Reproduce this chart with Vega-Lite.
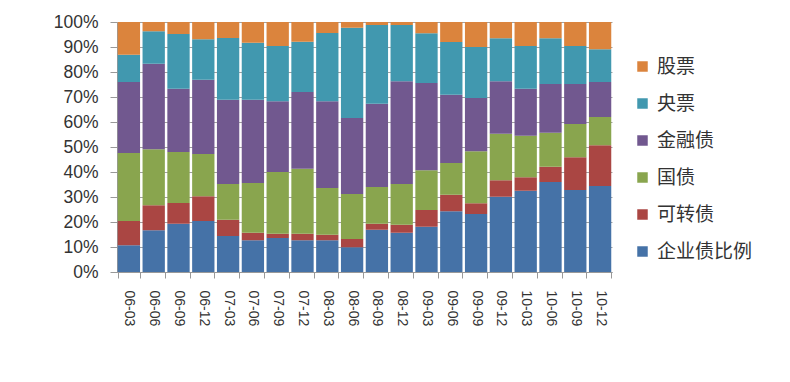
{
  "$schema": "https://vega.github.io/schema/vega-lite/v6.json",
  "autosize": {"type": "none"},
  "width": 495,
  "height": 250,
  "padding": {"left": 117, "top": 22, "right": 178, "bottom": 110},
  "background": "white",
  "data": {"values": [
    {"q":"06-03","t":"企业债比例","o":1,"v":10.7},{"q":"06-03","t":"可转债","o":2,"v":9.7},{"q":"06-03","t":"国债","o":3,"v":27.2},{"q":"06-03","t":"金融债","o":4,"v":28.4},{"q":"06-03","t":"央票","o":5,"v":10.9},{"q":"06-03","t":"股票","o":6,"v":13.1},
    {"q":"06-06","t":"企业债比例","o":1,"v":16.7},{"q":"06-06","t":"可转债","o":2,"v":10.0},{"q":"06-06","t":"国债","o":3,"v":22.4},{"q":"06-06","t":"金融债","o":4,"v":34.2},{"q":"06-06","t":"央票","o":5,"v":13.0},{"q":"06-06","t":"股票","o":6,"v":3.7},
    {"q":"06-09","t":"企业债比例","o":1,"v":19.3},{"q":"06-09","t":"可转债","o":2,"v":8.3},{"q":"06-09","t":"国债","o":3,"v":20.4},{"q":"06-09","t":"金融债","o":4,"v":25.3},{"q":"06-09","t":"央票","o":5,"v":21.9},{"q":"06-09","t":"股票","o":6,"v":4.8},
    {"q":"06-12","t":"企业债比例","o":1,"v":20.4},{"q":"06-12","t":"可转债","o":2,"v":9.9},{"q":"06-12","t":"国债","o":3,"v":16.9},{"q":"06-12","t":"金融债","o":4,"v":29.7},{"q":"06-12","t":"央票","o":5,"v":16.2},{"q":"06-12","t":"股票","o":6,"v":6.9},
    {"q":"07-03","t":"企业债比例","o":1,"v":14.4},{"q":"07-03","t":"可转债","o":2,"v":6.5},{"q":"07-03","t":"国债","o":3,"v":14.3},{"q":"07-03","t":"金融债","o":4,"v":33.7},{"q":"07-03","t":"央票","o":5,"v":24.7},{"q":"07-03","t":"股票","o":6,"v":6.4},
    {"q":"07-06","t":"企业债比例","o":1,"v":12.7},{"q":"07-06","t":"可转债","o":2,"v":3.0},{"q":"07-06","t":"国债","o":3,"v":19.9},{"q":"07-06","t":"金融债","o":4,"v":33.3},{"q":"07-06","t":"央票","o":5,"v":22.8},{"q":"07-06","t":"股票","o":6,"v":8.3},
    {"q":"07-09","t":"企业债比例","o":1,"v":13.6},{"q":"07-09","t":"可转债","o":2,"v":1.7},{"q":"07-09","t":"国债","o":3,"v":24.7},{"q":"07-09","t":"金融债","o":4,"v":28.3},{"q":"07-09","t":"央票","o":5,"v":22.1},{"q":"07-09","t":"股票","o":6,"v":9.6},
    {"q":"07-12","t":"企业债比例","o":1,"v":12.7},{"q":"07-12","t":"可转债","o":2,"v":2.6},{"q":"07-12","t":"国债","o":3,"v":26.0},{"q":"07-12","t":"金融债","o":4,"v":30.7},{"q":"07-12","t":"央票","o":5,"v":20.1},{"q":"07-12","t":"股票","o":6,"v":7.9},
    {"q":"08-03","t":"企业债比例","o":1,"v":12.7},{"q":"08-03","t":"可转债","o":2,"v":2.2},{"q":"08-03","t":"国债","o":3,"v":18.7},{"q":"08-03","t":"金融债","o":4,"v":34.7},{"q":"08-03","t":"央票","o":5,"v":27.3},{"q":"08-03","t":"股票","o":6,"v":4.4},
    {"q":"08-06","t":"企业债比例","o":1,"v":9.9},{"q":"08-06","t":"可转债","o":2,"v":3.3},{"q":"08-06","t":"国债","o":3,"v":18.0},{"q":"08-06","t":"金融债","o":4,"v":30.4},{"q":"08-06","t":"央票","o":5,"v":36.1},{"q":"08-06","t":"股票","o":6,"v":2.3},
    {"q":"08-09","t":"企业债比例","o":1,"v":16.9},{"q":"08-09","t":"可转债","o":2,"v":2.4},{"q":"08-09","t":"国债","o":3,"v":14.7},{"q":"08-09","t":"金融债","o":4,"v":33.3},{"q":"08-09","t":"央票","o":5,"v":31.5},{"q":"08-09","t":"股票","o":6,"v":1.2},
    {"q":"08-12","t":"企业债比例","o":1,"v":15.7},{"q":"08-12","t":"可转债","o":2,"v":3.2},{"q":"08-12","t":"国债","o":3,"v":16.3},{"q":"08-12","t":"金融债","o":4,"v":41.1},{"q":"08-12","t":"央票","o":5,"v":22.5},{"q":"08-12","t":"股票","o":6,"v":1.2},
    {"q":"09-03","t":"企业债比例","o":1,"v":18.1},{"q":"09-03","t":"可转债","o":2,"v":6.7},{"q":"09-03","t":"国债","o":3,"v":15.9},{"q":"09-03","t":"金融债","o":4,"v":34.9},{"q":"09-03","t":"央票","o":5,"v":19.9},{"q":"09-03","t":"股票","o":6,"v":4.5},
    {"q":"09-06","t":"企业债比例","o":1,"v":24.3},{"q":"09-06","t":"可转债","o":2,"v":6.6},{"q":"09-06","t":"国债","o":3,"v":12.7},{"q":"09-06","t":"金融债","o":4,"v":27.3},{"q":"09-06","t":"央票","o":5,"v":21.1},{"q":"09-06","t":"股票","o":6,"v":8.0},
    {"q":"09-09","t":"企业债比例","o":1,"v":23.2},{"q":"09-09","t":"可转债","o":2,"v":4.3},{"q":"09-09","t":"国债","o":3,"v":20.8},{"q":"09-09","t":"金融债","o":4,"v":21.3},{"q":"09-09","t":"央票","o":5,"v":20.4},{"q":"09-09","t":"股票","o":6,"v":10.0},
    {"q":"09-12","t":"企业债比例","o":1,"v":30.1},{"q":"09-12","t":"可转债","o":2,"v":6.6},{"q":"09-12","t":"国债","o":3,"v":18.6},{"q":"09-12","t":"金融债","o":4,"v":21.0},{"q":"09-12","t":"央票","o":5,"v":17.2},{"q":"09-12","t":"股票","o":6,"v":6.5},
    {"q":"10-03","t":"企业债比例","o":1,"v":32.5},{"q":"10-03","t":"可转债","o":2,"v":5.4},{"q":"10-03","t":"国债","o":3,"v":16.6},{"q":"10-03","t":"金融债","o":4,"v":18.8},{"q":"10-03","t":"央票","o":5,"v":17.1},{"q":"10-03","t":"股票","o":6,"v":9.6},
    {"q":"10-06","t":"企业债比例","o":1,"v":36.0},{"q":"10-06","t":"可转债","o":2,"v":6.1},{"q":"10-06","t":"国债","o":3,"v":13.6},{"q":"10-06","t":"金融债","o":4,"v":19.5},{"q":"10-06","t":"央票","o":5,"v":18.3},{"q":"10-06","t":"股票","o":6,"v":6.5},
    {"q":"10-09","t":"企业债比例","o":1,"v":32.8},{"q":"10-09","t":"可转债","o":2,"v":13.1},{"q":"10-09","t":"国债","o":3,"v":13.3},{"q":"10-09","t":"金融债","o":4,"v":16.0},{"q":"10-09","t":"央票","o":5,"v":15.2},{"q":"10-09","t":"股票","o":6,"v":9.6},
    {"q":"10-12","t":"企业债比例","o":1,"v":34.4},{"q":"10-12","t":"可转债","o":2,"v":16.3},{"q":"10-12","t":"国债","o":3,"v":11.3},{"q":"10-12","t":"金融债","o":4,"v":14.0},{"q":"10-12","t":"央票","o":5,"v":13.1},{"q":"10-12","t":"股票","o":6,"v":10.9}
  ]},
  "mark": {"type": "bar"},
  "encoding": {
    "x": {
      "field": "q", "type": "nominal", "sort": null,
      "scale": {"paddingInner": 0.1, "paddingOuter": 0.03},
      "axis": {
        "title": null, "labelAngle": 90, "labelAlign": "left", "labelBaseline": "middle",
        "labelFont": "Liberation Sans", "labelFontSize": 14, "labelColor": "#333333",
        "labelPadding": 12, "tickBand": "extent", "tickSize": 6, "tickColor": "#999999",
        "domainColor": "#999999", "grid": false
      }
    },
    "y": {
      "field": "v", "type": "quantitative", "stack": "normalize",
      "scale": {"domain": [0, 1], "nice": false},
      "axis": {
        "title": null, "format": ".0%", "values": [0,0.1,0.2,0.3,0.4,0.5,0.6,0.7,0.8,0.9,1],
        "labelOverlap": false,
        "labelFont": "Liberation Sans", "labelFontSize": 17.5, "labelColor": "#333333",
        "labelPadding": 12, "tickSize": 7, "tickColor": "#999999", "domainColor": "#999999",
        "gridColor": "#a0a0a0", "gridWidth": 1
      }
    },
    "color": {
      "field": "t", "type": "nominal",
      "scale": {
        "domain": ["股票", "央票", "金融债", "国债", "可转债", "企业债比例"],
        "range": ["#DB843D", "#4198AF", "#71588F", "#89A54E", "#AA4643", "#4572A7"]
      },
      "legend": {
        "title": null, "orient": "none", "legendX": 516, "legendY": 35,
        "symbolType": "square", "symbolSize": 110, "symbolStrokeWidth": 0,
        "labelFont": "Noto Sans CJK SC", "labelFontSize": 19, "labelColor": "#333333",
        "rowPadding": 17, "labelOffset": 5
      }
    },
    "order": {"field": "o", "type": "quantitative"}
  },
  "config": {"view": {"stroke": null}}
}
